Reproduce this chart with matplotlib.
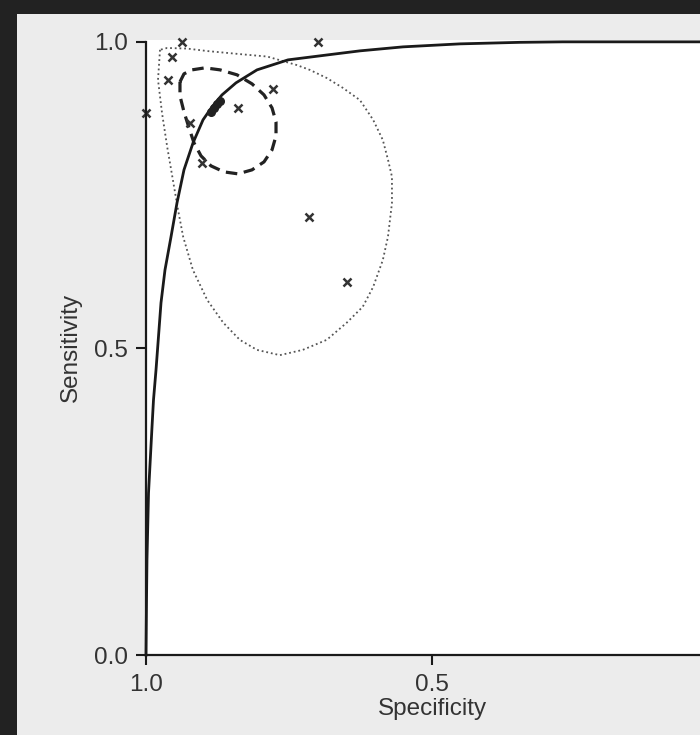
import matplotlib.pyplot as plt
from matplotlib.patches import Rectangle

plt.rcParams['font.family'] = ['Liberation Sans', 'DejaVu Sans']

# individual studies (specificity, sensitivity)
study_spec = [0.937, 0.699, 0.955, 0.962, 0.778, 0.839, 0.923, 0.902, 0.715, 0.649, 1.0]
study_sens = [1.0, 1.0, 0.976, 0.938, 0.923, 0.892, 0.868, 0.803, 0.715, 0.608, 0.884]

# summary point cluster
summary_spec = [0.886, 0.881, 0.876, 0.871]
summary_sens = [0.886, 0.892, 0.898, 0.904]

# SROC curve
sroc_spec = [1.0, 0.9991, 0.9983, 0.9956, 0.9895, 0.9869, 0.9825, 0.9773, 0.9738, 0.9668,
             0.9563, 0.9458, 0.9336, 0.9178, 0.9003, 0.8846, 0.8671, 0.8427, 0.8059, 0.7517,
             0.6818, 0.6259, 0.5507, 0.4510, 0.3462, 0.2710, 0.0]
sroc_sens = [0.0, 0.0897, 0.155, 0.2643, 0.3719, 0.416, 0.4649, 0.5302, 0.5742, 0.628,
             0.6819, 0.7374, 0.7912, 0.8352, 0.8728, 0.894, 0.9135, 0.9331, 0.9543, 0.9706,
             0.9788, 0.9853, 0.9918, 0.9967, 0.9992, 1.0, 1.0]

# 95% confidence region (dashed)
conf_spec = [0.9406, 0.9336, 0.9196, 0.8969, 0.8706, 0.8409, 0.8147, 0.7937, 0.7797, 0.7727,
             0.7727, 0.7797, 0.7937, 0.8147, 0.8392, 0.8636, 0.8864, 0.9038, 0.9161, 0.9248,
             0.9336, 0.9406, 0.9406]
conf_sens = [0.9347, 0.9478, 0.9543, 0.9576, 0.9543, 0.9462, 0.9315, 0.9135, 0.8923, 0.8695,
             0.8467, 0.8238, 0.8042, 0.7912, 0.7847, 0.7879, 0.7977, 0.814, 0.8352, 0.8597,
             0.8858, 0.9119, 0.9347]

# 95% prediction region (dotted)
pred_spec = [0.9755, 0.979, 0.972, 0.963, 0.9545, 0.944, 0.935, 0.918, 0.893, 0.865,
             0.836, 0.806, 0.766, 0.726, 0.684, 0.649, 0.621, 0.603, 0.586, 0.577,
             0.570, 0.570, 0.577, 0.586, 0.603, 0.626, 0.656, 0.684, 0.713, 0.736,
             0.788, 0.836, 0.893, 0.928, 0.963, 0.9755]
pred_sens = [0.987, 0.938, 0.884, 0.829, 0.783, 0.726, 0.682, 0.628, 0.579, 0.542,
             0.514, 0.4976, 0.489, 0.4976, 0.514, 0.542, 0.568, 0.600, 0.644, 0.682,
             0.737, 0.780, 0.808, 0.840, 0.873, 0.905, 0.925, 0.941, 0.954, 0.962,
             0.976, 0.980, 0.985, 0.989, 0.990, 0.987]

fig = plt.figure(figsize=(7, 7.35), dpi=100, facecolor='#ececec')

# dark frame around the screenshot
fig.add_artist(Rectangle((0, 1 - 14 / 735), 1, 14 / 735, transform=fig.transFigure,
                         facecolor='#222222', edgecolor='none'))
fig.add_artist(Rectangle((0, 0), 17 / 700, 1, transform=fig.transFigure,
                         facecolor='#222222', edgecolor='none'))

ax = fig.add_axes([146 / 700, 80 / 735, 572 / 700, 615 / 735])
ax.set_facecolor('white')

ax.plot(pred_spec, pred_sens, color='#555555', linestyle=(0, (1, 1.6)), linewidth=1.3)
ax.plot(conf_spec, conf_sens, color='#222222', linestyle=(0, (3.6, 2.1)), linewidth=2.3)
ax.plot(sroc_spec, sroc_sens, color='#1a1a1a', linewidth=2.0, clip_on=False)
ax.plot(study_spec, study_sens, 'x', color='#333333', markersize=5.5, markeredgewidth=1.8,
        clip_on=False)
ax.plot(summary_spec, summary_sens, 'o', color='#222222', markersize=5.5, clip_on=False)

ax.set_xlim(1.0, 0.0)
ax.set_ylim(0.0, 1.003)
ax.set_xticks([1.0, 0.5])
ax.set_xticklabels(['1.0', '0.5'])
ax.set_yticks([0.0, 0.5, 1.0])
ax.set_yticklabels(['0.0', '0.5', '1.0'])

for side in ['top', 'right']:
    ax.spines[side].set_visible(False)
for side in ['left', 'bottom']:
    ax.spines[side].set_linewidth(1.6)
    ax.spines[side].set_color('#1a1a1a')
ax.spines['left'].set_bounds(0.0, 1.0)

ax.tick_params(length=7, width=1.5, labelsize=17.5, colors='#1a1a1a',
               labelcolor='#333333')
ax.tick_params(axis='x', pad=7)
ax.tick_params(axis='y', pad=6)
ax.set_xlabel('Specificity', fontsize=17.5, color='#333333', labelpad=1)
ax.set_ylabel('Sensitivity', fontsize=17.5, color='#333333', labelpad=9)

plt.savefig('out.png', dpi=100, facecolor=fig.get_facecolor())
